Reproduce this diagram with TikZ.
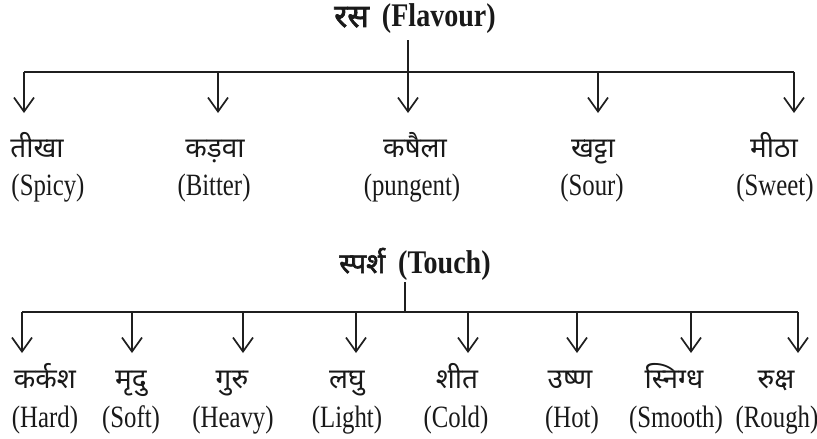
\documentclass[tikz,border=0pt]{standalone}
\usepackage{fontspec}
\usetikzlibrary{arrows.meta}
\setmainfont{Liberation Serif}
\newfontfamily\engfont[FakeStretch=0.8]{Liberation Serif}
\newfontfamily\titlefont[FakeStretch=0.85]{Liberation Serif}
\newfontfamily\hindifont[Script=Devanagari]{Noto Sans}
\newfontfamily\hindititle[Script=Devanagari,FakeBold=2.2]{Noto Sans}
\begin{document}
\begin{tikzpicture}[x=1pt,y=-1pt,
  conn/.style={line width=1.7pt, draw=black!88},
  arr/.style={conn, -{Straight Barb[length=14pt,width=20pt,line width=1.7pt]}},
  hin/.style={font=\hindifont\fontsize{28}{32}\selectfont, inner sep=0pt, anchor=base, text=black!90},
  eng/.style={font=\engfont\fontsize{31}{34}\selectfont, inner sep=0pt, anchor=base, text=black!90},
  ttl/.style={inner sep=0pt, anchor=base, text=black!90}
]
\useasboundingbox (0,0) rectangle (817,439);

% ---------- Flavour ----------
\node[ttl] (t1) at (415,27) {{\hindititle\fontsize{32}{34}\selectfont रस}\hspace{13pt}{\titlefont\bfseries\fontsize{33}{34}\selectfont (Flavour)}};
\coordinate (s1) at (408,40);
\coordinate (h1) at (408,72);
\coordinate (l1) at (24,72);
\coordinate (r1) at (794,72);
\draw[conn] (s1) -- (h1);
\draw[conn] (l1) -- (r1);
\foreach \i/\x/\hx/\ex/\h/\e in {1/24/37/48/तीखा/(Spicy), 2/218/215/214/कड़वा/(Bitter), 3/408/415/412/कषैला/(pungent), 4/598/593/592/खट्टा/(Sour), 5/794/774/775/मीठा/(Sweet)}{
  \coordinate (ft\i) at (\x,72);
  \coordinate (fa\i) at (\x,113);
  \draw[arr] (ft\i) -- (fa\i);
  \node[hin] (fh\i) at (\hx,157) {\h};
  \node[eng] (fe\i) at (\ex,195) {\e};
}

% ---------- Touch ----------
\node[ttl] (t2) at (415,273) {{\hindititle\fontsize{28}{32}\selectfont स्पर्श}\hspace{13pt}{\titlefont\bfseries\fontsize{33}{34}\selectfont (Touch)}};
\coordinate (s2) at (405,282);
\coordinate (h2) at (405,312);
\coordinate (l2) at (22,312);
\coordinate (r2) at (798,312);
\draw[conn] (s2) -- (h2);
\draw[conn] (l2) -- (r2);
\foreach \i/\x/\hx/\ex/\h/\e in {1/22/45/45/कर्कश/(Hard), 2/132/131/131/मृदु/(Soft), 3/243/232/233/गुरु/(Heavy), 4/356/347/347/लघु/(Light), 5/468/457/456/शीत/(Cold), 6/577/570/572/उष्ण/(Hot), 7/691/674/676/स्निग्ध/(Smooth), 8/798/776/777/रुक्ष/(Rough)}{
  \coordinate (tt\i) at (\x,312);
  \coordinate (ta\i) at (\x,353);
  \draw[arr] (tt\i) -- (ta\i);
  \node[hin] (th\i) at (\hx,388) {\h};
  \node[eng] (te\i) at (\ex,427) {\e};
}
\end{tikzpicture}
\end{document}
